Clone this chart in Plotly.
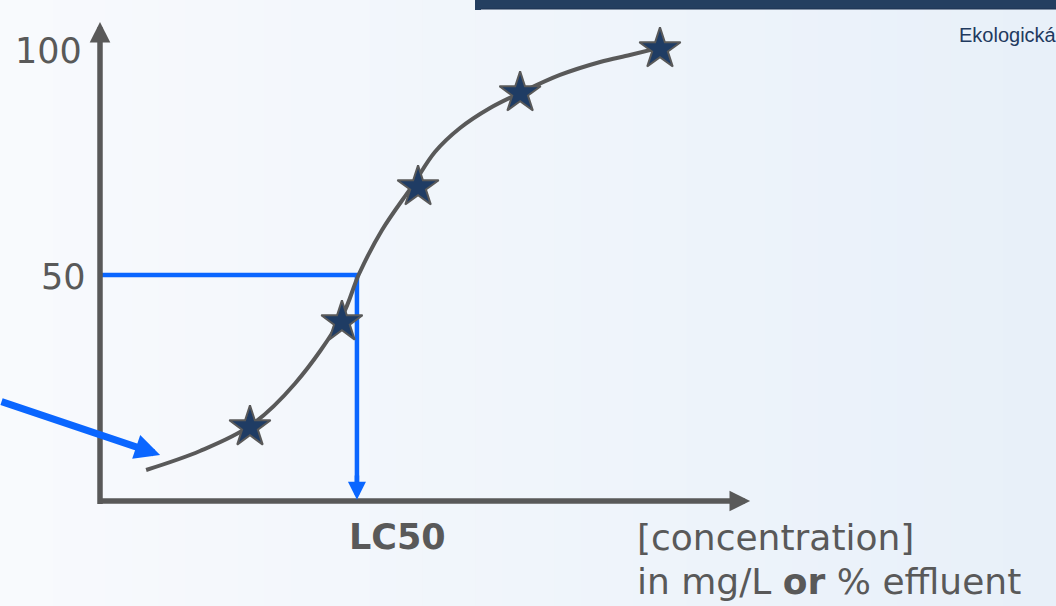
import plotly.graph_objects as go

# ---- data ----
curve_x = [1.78, 3.86, 5.79, 7.53, 9.34, 10.0, 10.89, 12.08, 12.93, 13.90, 15.06, 16.22, 17.76, 19.31, 20.46, 21.54]
curve_y = [6.86, 11.06, 16.6, 26.0, 40.8, 50.22, 59.96, 69.91, 77.21, 82.52, 86.95, 90.27, 94.25, 97.12, 98.67, 100.2]

star_x = [5.79, 9.34, 12.28, 16.22, 21.62]
star_y = [16.37, 39.60, 69.47, 90.27, 100.0]

ytick_vals = [50, 100]
ytick_text = ["50", "100"]

lc50_x = 9.92
lc50_y = 50
lc50_label = "LC50"

x_axis_end = 25.1
y_axis_end = 106.0

pointer_from = (-3.86, 22.1)
pointer_to = (2.32, 10.2)

xlabel_line1 = "[concentration]"
xlabel_line2 = "in mg/L <b>or</b> % effluent"
corner_text = "Ekologická"

W, H = 1056, 606
X_RANGE = [-3.861, 36.91]
Y_RANGE = [-23.23, 110.84]

GRAY = "#595959"
BLUE = "#0A66FF"
NAVY = "#1F3C64"
FONT = "DejaVu Sans"

fig = go.Figure()

# LC50 guide lines (blue)
fig.add_trace(go.Scatter(
    x=[0, lc50_x, lc50_x], y=[lc50_y, lc50_y, 3],
    mode="lines", line=dict(color=BLUE, width=4.5),
    hoverinfo="skip", showlegend=False))

# dose-response curve
fig.add_trace(go.Scatter(
    x=curve_x, y=curve_y, mode="lines",
    line=dict(color=GRAY, width=4, shape="spline", smoothing=1.0),
    hoverinfo="skip", showlegend=False))

# observed points
fig.add_trace(go.Scatter(
    x=star_x, y=star_y, mode="markers",
    marker=dict(symbol="star", size=31, color=NAVY, line=dict(color=GRAY, width=2)),
    hoverinfo="skip", showlegend=False))

annotations = []
# axes as arrows
annotations.append(dict(x=0, y=y_axis_end, ax=0, ay=-1.0, xref="x", yref="y", axref="x", ayref="y",
                        showarrow=True, arrowhead=2, arrowsize=0.75, arrowwidth=5.5, arrowcolor=GRAY, text=""))
annotations.append(dict(x=x_axis_end, y=0, ax=-0.1, ay=0, xref="x", yref="y", axref="x", ayref="y",
                        showarrow=True, arrowhead=2, arrowsize=0.75, arrowwidth=5.5, arrowcolor=GRAY, text=""))
# blue arrowhead at LC50
annotations.append(dict(x=lc50_x, y=0.3, ax=lc50_x, ay=6, xref="x", yref="y", axref="x", ayref="y",
                        showarrow=True, arrowhead=2, arrowsize=0.8, arrowwidth=4.5, arrowcolor=BLUE, text=""))
# blue pointer from the left edge
annotations.append(dict(x=pointer_to[0], y=pointer_to[1], ax=pointer_from[0], ay=pointer_from[1],
                        xref="x", yref="y", axref="x", ayref="y",
                        showarrow=True, arrowhead=2, arrowsize=0.72, arrowwidth=7, arrowcolor=BLUE, text=""))

# y tick labels
for v, t in zip(ytick_vals, ytick_text):
    annotations.append(dict(x=0, y=v, xref="x", yref="y", text=t, showarrow=False,
                            xanchor="right", yanchor="middle", xshift=-12 if v == 50 else -16, yshift=-2,
                            font=dict(family=FONT, size=35, color=GRAY)))

# LC50 label
annotations.append(dict(x=lc50_x, y=0, xref="x", yref="y", text="<b>%s</b>" % lc50_label, showarrow=False,
                        xanchor="left", yanchor="middle", xshift=-10, yshift=-36,
                        font=dict(family=FONT, size=35, color=GRAY)))

# x axis title
annotations.append(dict(x=635 / W, y=1 - 537 / H, xref="paper", yref="paper", text=xlabel_line1,
                        showarrow=False, xanchor="left", yanchor="middle",
                        font=dict(family=FONT, size=36, color=GRAY)))
annotations.append(dict(x=635 / W, y=1 - 581 / H, xref="paper", yref="paper", text=xlabel_line2,
                        showarrow=False, xanchor="left", yanchor="middle",
                        font=dict(family=FONT, size=36, color=GRAY)))

# corner text
annotations.append(dict(x=957 / W, y=1 - 35 / H, xref="paper", yref="paper", text=corner_text,
                        showarrow=False, xanchor="left", yanchor="middle",
                        font=dict(family="Liberation Sans", size=20, color="#1F3A5F")))

# background gradient strips + top dark bar
shapes = []
n = 40
c0 = (248, 250, 253)
c1 = (232, 240, 249)
for i in range(n):
    t = i / (n - 1)
    col = tuple(round(a + (b - a) * t) for a, b in zip(c0, c1))
    shapes.append(dict(type="rect", xref="paper", yref="paper", x0=i / n, x1=(i + 1) / n + 0.002,
                       y0=0, y1=1, fillcolor="rgb(%d,%d,%d)" % col, line=dict(width=0), layer="below"))
shapes.append(dict(type="rect", xref="paper", yref="paper", x0=478 / W, x1=1.01, y0=1 - 9 / H, y1=1.02,
                   fillcolor="#243F60", line=dict(color="#1C3350", width=1), layer="above"))
shapes.append(dict(type="rect", xref="paper", yref="paper", x0=475 / W, x1=481 / W, y0=1 - 10 / H, y1=1.02,
                   fillcolor="#243F60", line=dict(width=0), layer="above"))

fig.update_layout(
    width=W, height=H,
    margin=dict(l=0, r=0, t=0, b=0),
    paper_bgcolor="rgb(248,250,253)", plot_bgcolor="rgba(0,0,0,0)",
    xaxis=dict(range=X_RANGE, visible=False, fixedrange=True),
    yaxis=dict(range=Y_RANGE, visible=False, fixedrange=True),
    annotations=annotations, shapes=shapes, showlegend=False,
)

fig.write_html("out.html", config={"displayModeBar": False},
               post_script="document.body.style.margin='0';document.body.style.overflow='hidden';")
